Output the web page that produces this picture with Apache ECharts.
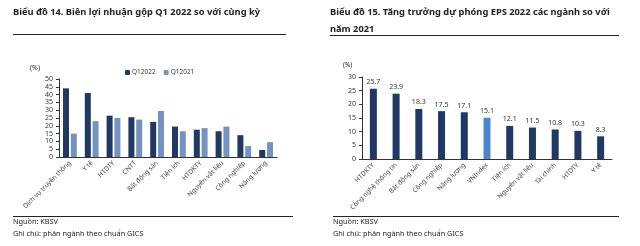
<!DOCTYPE html>
<html>
<head>
<meta charset="utf-8">
<script src="https://cdn.jsdelivr.net/npm/echarts@6/dist/echarts.min.js"></script>
<style>
    html, body { margin: 0; padding: 0; background: #fff; }
    #chart { width: 640px; height: 246px; }
</style>
</head>
<body>
<div id="chart"></div>
<script>
'use strict';

// Biểu đồ 14
var marginCats = ['Dịch vụ truyền thông', 'Y tế', 'HTDTY', 'CNTT', 'Bất động sản', 'Tiện ích',
    'HTDKTY', 'Nguyên vật liệu', 'Công nghiệp', 'Năng lượng'];
var q12022 = [44, 41, 26.5, 25.5, 22.5, 19.5, 17.5, 16.5, 14, 4.5];
var q12021 = [15, 23, 25, 24, 29.5, 16.5, 18.5, 19.5, 7, 9.5];

// Biểu đồ 15
var epsCats = ['HTDKTY', 'Công nghệ thông tin', 'Bất động sản', 'Công nghiệp', 'Năng lượng', 'VNIndex',
    'Tiện ích', 'Nguyên vật liệu', 'Tài chính', 'HTDTY', 'Y tế'];
var epsGrowth = [25.7, 23.9, 18.3, 17.5, 17.1, 15.1, 12.1, 11.5, 10.8, 10.3, 8.3];

var FONT = '"Noto Sans", sans-serif';
var DARK = '#1f3864';
var LIGHT = '#7593c0';
var HIGHLIGHT = '#4a86d0';

var epsData = epsGrowth.map(function (v, i) {
    return epsCats[i] === 'VNIndex' ? {value: v, itemStyle: {color: HIGHLIGHT}} : v;
});

function catAxis(idx, data) {
    return {
        type: 'category',
        gridIndex: idx,
        data: data,
        axisLine: {lineStyle: {color: '#333', width: 1}},
        axisTick: {length: 3, lineStyle: {color: '#333'}},
        axisLabel: {rotate: 45, fontSize: 6.5, color: '#444', fontFamily: FONT, margin: 5}
    };
}

function valAxis(idx, max) {
    return {
        type: 'value',
        gridIndex: idx,
        min: 0,
        max: max,
        interval: 5,
        axisLine: {show: true, lineStyle: {color: '#333', width: 1}},
        axisTick: {show: true, length: 3, lineStyle: {color: '#333'}},
        splitLine: {show: false},
        axisLabel: {fontSize: 7, color: '#333', fontFamily: FONT, margin: 6}
    };
}

function text(x, y, str, size, bold) {
    return {
        type: 'text', left: x, top: y,
        style: {text: str, fontSize: size, fontWeight: bold ? 'bold' : 'normal', fill: '#222', fontFamily: FONT}
    };
}

function hline(x1, x2, y) {
    return {
        type: 'line',
        shape: {x1: x1, y1: y, x2: x2, y2: y},
        style: {stroke: '#222', lineWidth: 1}
    };
}

var chart = echarts.init(document.getElementById('chart'));

chart.setOption({
    animation: false,
    textStyle: {fontFamily: FONT},
    grid: [
        {left: 59, right: 363, top: 79, bottom: 89},
        {left: 362, right: 28, top: 77, bottom: 87}
    ],
    legend: {
        left: 120, top: 64,
        itemWidth: 5, itemHeight: 5, itemGap: 8,
        textStyle: {fontSize: 6.5, color: '#333', padding: [0, 0, 0, -3]},
        data: ['Q12022', 'Q12021']
    },
    xAxis: [catAxis(0, marginCats), catAxis(1, epsCats)],
    yAxis: [valAxis(0, 50), valAxis(1, 30)],
    series: [
        {
            name: 'Q12022', type: 'bar', xAxisIndex: 0, yAxisIndex: 0,
            data: q12022, barWidth: 6, barGap: '30%', itemStyle: {color: DARK}
        },
        {
            name: 'Q12021', type: 'bar', xAxisIndex: 0, yAxisIndex: 0,
            data: q12021, barWidth: 6, barGap: '30%', itemStyle: {color: LIGHT}
        },
        {
            name: 'EPS', type: 'bar', xAxisIndex: 1, yAxisIndex: 1,
            data: epsData, barWidth: 7, itemStyle: {color: DARK},
            label: {show: true, position: 'top', fontSize: 7, color: '#333', distance: 3}
        }
    ],
    graphic: [
        text(13, 8, 'Biểu đồ 14. Biên lợi nhuận gộp Q1 2022 so với cùng kỳ', 9.3, true),
        hline(13, 286, 34.5),
        text(30, 64, '(%)', 7, false),
        text(330, 8, 'Biểu đồ 15. Tăng trưởng dự phóng EPS 2022 các ngành so với', 9.3, true),
        text(330, 25, 'năm 2021', 9.3, true),
        hline(330, 619, 35.5),
        text(343, 62, '(%)', 6.5, false),
        hline(13, 293, 216.5),
        hline(333, 619, 216.5),
        text(13, 218, 'Nguồn: KBSV', 7.3, false),
        text(13, 230, 'Ghi chú: phân ngành theo chuẩn GICS', 7.3, false),
        text(333, 218, 'Nguồn: KBSV', 7.3, false),
        text(333, 230, 'Ghi chú: phân ngành theo chuẩn GICS', 7.3, false)
    ]
});
</script>
</body>
</html>
